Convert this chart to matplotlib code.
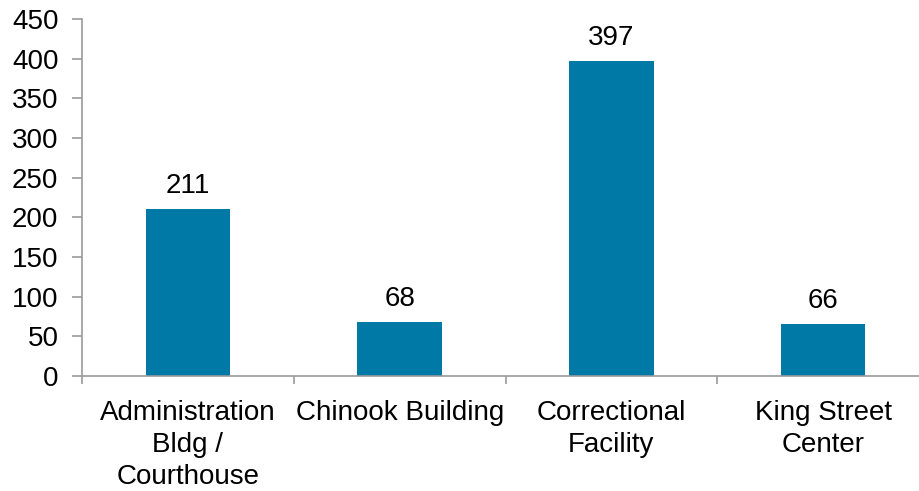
import matplotlib
matplotlib.use("Agg")
import matplotlib.pyplot as plt
import numpy as np

plt.rcParams["font.family"] = ["Liberation Sans", "DejaVu Sans"]

categories = ["Administration\nBldg /\nCourthouse", "Chinook Building",
              "Correctional\nFacility", "King Street\nCenter"]
values = [211, 68, 397, 66]

BAR_COLOR = "#0079A6"
AXIS_COLOR = "#9a9a9a"
FS = 20

fig = plt.figure(figsize=(9.19, 4.91), dpi=100)
ax = fig.add_axes([82 / 919, 115 / 491, 847 / 919, 357 / 491])

x = np.arange(len(values))
bars = ax.bar(x, values, width=0.4, color=BAR_COLOR)

for bar, val in zip(bars, values):
    ax.annotate(str(val), (bar.get_x() + bar.get_width() / 2, bar.get_height()),
                textcoords="offset points", xytext=(0, 7), ha="center", va="bottom",
                fontsize=FS)

ax.set_xlim(-0.5, len(values) - 0.5)
ax.set_ylim(0, 450)
ax.set_yticks(range(0, 451, 50))
ax.set_xticks(x)
ax.set_xticklabels(categories, fontsize=FS, linespacing=1.3)
ax.set_xticks(np.arange(-0.5, len(values), 1.0), minor=True)

for s in ["top", "right"]:
    ax.spines[s].set_visible(False)
for s in ["left", "bottom"]:
    ax.spines[s].set_color(AXIS_COLOR)
    ax.spines[s].set_linewidth(1.2)

ax.tick_params(axis="y", labelsize=FS, length=7, color=AXIS_COLOR, width=1.2, pad=10)
ax.tick_params(axis="x", which="major", length=0, pad=17)
ax.tick_params(axis="x", which="minor", length=6, color=AXIS_COLOR, width=1.2)

fig.savefig("out.png", dpi=100)
